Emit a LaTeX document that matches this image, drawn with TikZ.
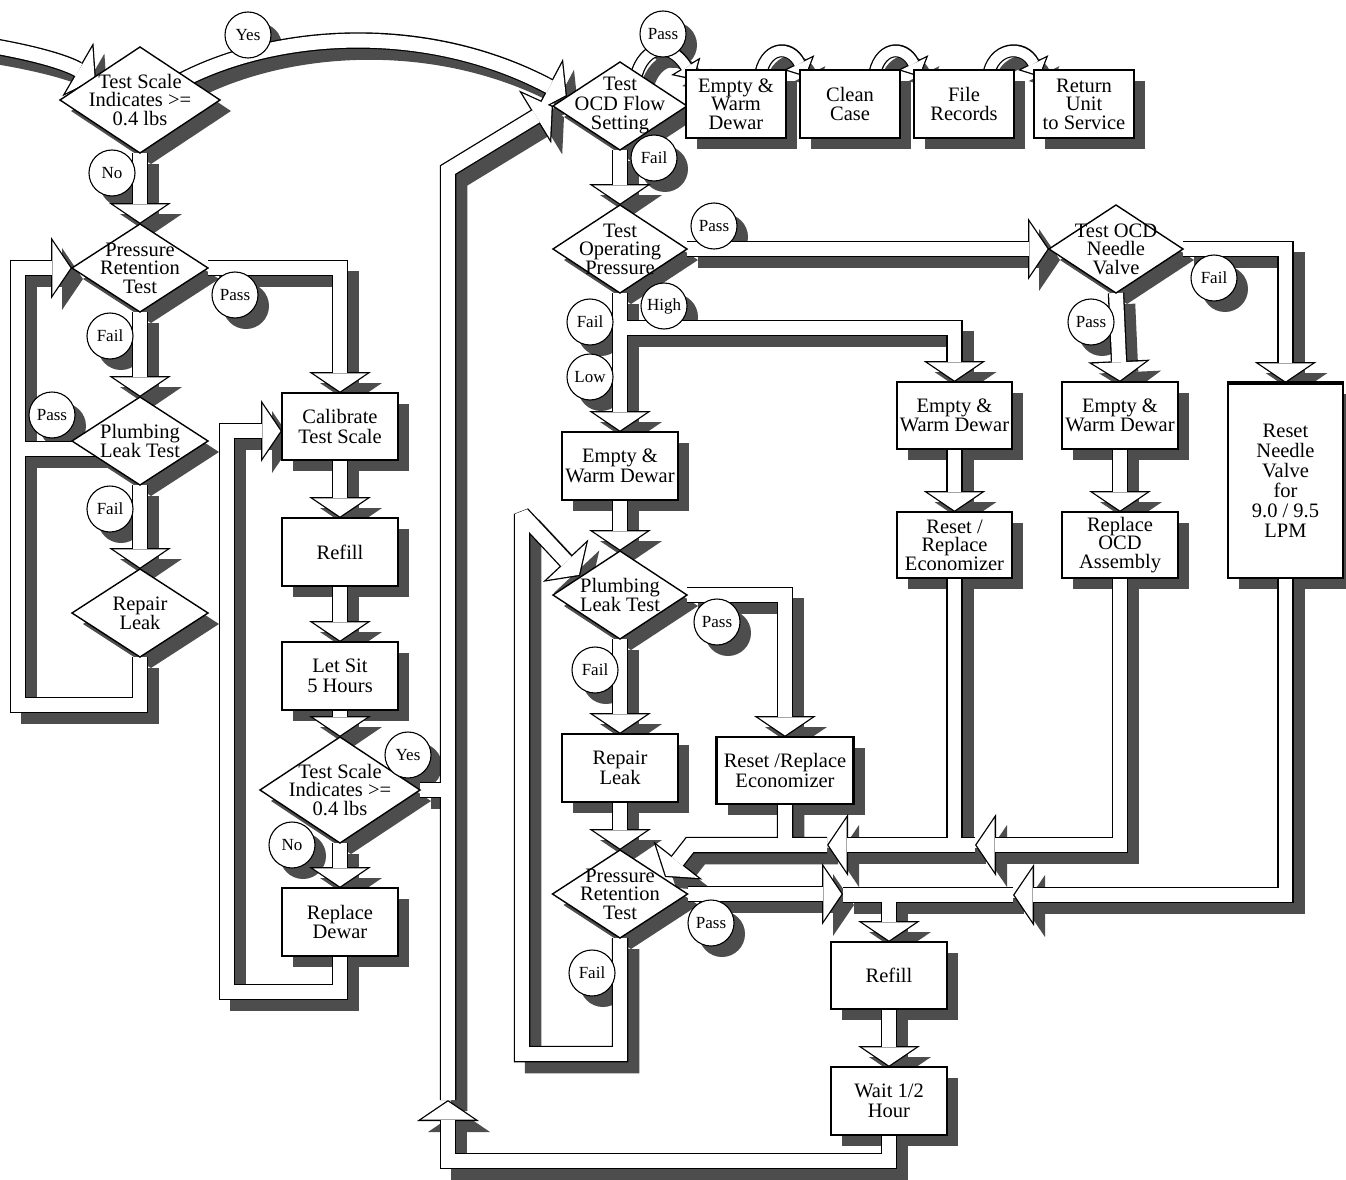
\documentclass[tikz,border=0pt]{standalone}
\usepackage{fontspec}
\setmainfont{Liberation Serif}
\usetikzlibrary{arrows.meta,shapes.geometric}
\pgfdeclarelayer{shadow}
\pgfdeclarelayer{outline}
\pgfdeclarelayer{inner}
\pgfsetlayers{shadow,outline,inner,main}
\definecolor{shd}{RGB}{77,77,77}
\newcommand\bxf{\fontsize{20.5}{19.5}\selectfont}
\newcommand\bxg{\fontsize{20.5}{18.5}\selectfont}
\newcommand\dif{\fontsize{20.5}{18.5}\selectfont}
\newcommand\lbf{\fontsize{17}{17}\selectfont}
\tikzset{
  fsh/.style={draw=shd, line width=16.5pt, line join=miter, miter limit=2, transform canvas={xshift=11pt,yshift=-11pt}},
  fout/.style={draw=black, line width=16.5pt, line join=miter, miter limit=2},
  fin/.style={draw=white, line width=13.9pt, line join=miter, miter limit=2},
  hO/.style={-{Triangle[width=62pt,length=21pt,line width=0pt]}},
  hI/.style={shorten >=1.57pt, -{Triangle[width=53.5pt,length=18.1pt,line width=0pt]}},
  nO/.style={}, nI/.style={},
  sO/.style={line width=13pt, -{Triangle[width=34pt,length=16pt,line width=0pt]}},
  sI/.style={line width=10.4pt, shorten >=1.79pt, -{Triangle[width=27.4pt,length=12.9pt,line width=0pt]}},
  box/.style={draw, fill=white, line width=1.3pt, inner sep=0pt, outer sep=0pt, align=center, font=\bxf},
  dia/.style={diamond, draw, fill=white, line width=1.4pt, inner sep=0pt, outer sep=0pt},
  dtxt/.style={inner sep=0pt, align=center, font=\dif},
  lab/.style={circle, draw, fill=white, line width=1.1pt, minimum size=46pt, inner sep=0pt, outer sep=0pt, font=\lbf},
}
\newcommand\flow[2][h]{%
  \begin{pgfonlayer}{shadow}\draw[fsh,#1O] #2;\end{pgfonlayer}%
  \begin{pgfonlayer}{outline}\draw[fout,#1O] #2;\end{pgfonlayer}%
  \begin{pgfonlayer}{inner}\draw[fin,#1I] #2;\end{pgfonlayer}}
\newcommand\bshad[1]{\begin{pgfonlayer}{shadow}\fill[shd] ([xshift=11pt,yshift=-11pt]#1.north west) rectangle ([xshift=11pt,yshift=-11pt]#1.south east);\end{pgfonlayer}}
\newcommand\dshad[1]{\begin{pgfonlayer}{shadow}\fill[shd] ([xshift=11pt,yshift=-11pt]#1.north) -- ([xshift=11pt,yshift=-11pt]#1.east) -- ([xshift=11pt,yshift=-11pt]#1.south) -- ([xshift=11pt,yshift=-11pt]#1.west) -- cycle;\end{pgfonlayer}}
\newcommand\cshad[1]{\begin{pgfonlayer}{shadow}\fill[shd] ([xshift=11pt,yshift=-11pt]#1.center) circle[radius=23pt];\end{pgfonlayer}}
\newcommand\bnode[6][]{\node[box,minimum width=#4pt,minimum height=#5pt,#1] (#2) at (#3) {#6};\bshad{#2}}
\newcommand\dnode[6][]{\node[dia,minimum width=#4pt,minimum height=#5pt] (#2) at (#3) {};\node[dtxt,#1] (#2t) at (#3) {#6};\dshad{#2}}
\newcommand\cnode[3]{\node[lab] (#1) at (#2) {#3};\cshad{#1}}
\begin{document}
\begin{tikzpicture}[x=1pt,y=-1pt]
\useasboundingbox (0,0) rectangle (1346,1180);
\begin{pgfonlayer}{shadow}\fill[white] (0,0) rectangle (1346,1180);\end{pgfonlayer}
% diamonds
\dnode{dA}{140,100}{160}{106}{Test Scale\\Indicates >=\\0.4 lbs}
\dnode{dB}{140,268}{136}{88}{Pressure\\Retention\\Test}
\dnode[font=\fontsize{20.5}{18}\selectfont]{dC}{140,441}{136}{88}{Plumbing\\Leak Test}
\dnode[font=\fontsize{20.5}{19}\selectfont]{dD}{140,613}{136}{88}{Repair\\Leak}
\dnode{dE}{340,790}{160}{106}{Test Scale\\Indicates >=\\0.4 lbs}
\dnode[font=\fontsize{20.5}{19.5}\selectfont]{dF}{620,106}{134}{88}{Test\\OCD Flow\\Setting}
\dnode{dG}{620,249}{134}{88}{Test\\Operating\\Pressure}
\dnode{dH}{1116,249}{134}{88}{Test OCD\\Needle\\Valve}
\dnode[font=\fontsize{20.5}{18}\selectfont]{dI}{620,595}{134}{88}{Plumbing\\Leak Test}
\dnode{dJ}{620,894}{135}{88}{Pressure\\Retention\\Test}
% boxes
\bnode[font=\bxg]{tE}{736,104}{100}{68}{Empty \&\\Warm\\Dewar}
\bnode{tC}{850,104}{100}{68}{Clean\\Case}
\bnode{tF}{964,104}{100}{68}{File\\Records}
\bnode[font=\bxg]{tR}{1084,104}{100}{68}{Return\\Unit\\to Service}
\bnode{cal}{340,426.5}{116}{67}{Calibrate\\Test Scale}
\bnode{rfa}{340,552}{116}{68}{Refill}
\bnode{ls}{340,676}{116}{68}{Let Sit\\5 Hours}
\bnode{rd}{340,922}{116}{68}{Replace\\Dewar}
\bnode{eL}{620,466}{116}{68}{Empty \&\\Warm Dewar}
\bnode{rl}{620,768}{116}{68}{Repair\\Leak}
\bnode[line width=2.4pt]{eM}{785,770.5}{137}{67}{Reset /Replace\\Economizer}
\bnode{rfb}{889,975.5}{116}{67}{Refill}
\bnode{wt}{889,1101}{116}{68}{Wait 1/2\\Hour}
\bnode{eMid}{954.5,415.5}{115}{67}{Empty \&\\Warm Dewar}
\bnode[font=\bxg]{ecR}{954.5,545}{115}{66}{Reset /\\Replace\\Economizer}
\bnode{eR}{1120,415.5}{116}{67}{Empty \&\\Warm Dewar}
\bnode[font=\bxg]{ocd}{1120,545}{116}{66}{Replace\\OCD\\Assembly}
\bnode[font=\fontsize{20.5}{20}\selectfont]{ndl}{1285.5,480.5}{115}{195}{Reset\\Needle\\Valve\\for\\9.0 / 9.5\\LPM}
\draw[line width=3.5pt] ([xshift=-0.6pt]ndl.north west) -- ([xshift=0.6pt]ndl.north east);
% labels
\cnode{c1}{248,35}{Yes}
\cnode{c2}{112,173}{No}
\cnode{c3}{235,295}{Pass}
\cnode{c4}{110,336}{Fail}
\cnode{c5}{52,415}{Pass}
\cnode{c6}{110,509}{Fail}
\cnode{c7}{408,755}{Yes}
\cnode{c8}{292,845}{No}
\cnode{c9}{663,34}{Pass}
\cnode{c10}{654,158}{Fail}
\cnode{c11}{714,226}{Pass}
\cnode{c12}{590,322}{Fail}
\cnode{c13}{664,306}{High}
\cnode{c14}{590,377}{Low}
\cnode{c15}{1214,278}{Fail}
\cnode{c16}{1091,322}{Pass}
\cnode{c17}{717,622}{Pass}
\cnode{c18}{595,670}{Fail}
\cnode{c19}{711,923}{Pass}
\cnode{c20}{592,973}{Fail}
% flows, left part
\flow{(-20,44) .. controls (30,52) and (65,62) .. (96,80)}
\flow{(165,90) .. controls (260,32) and (420,18) .. (567,96)}
\flow{(dA.south) -- (dB.north)}
\flow{(dB.south) -- (dC.north)}
\flow{(dC.south) -- (dD.north)}
\flow{(dD.south) -- (140,705) -- (18,705) -- (18,268) -- (dB.west)}
\flow[n]{(110,449) -- (18,449)}
\flow{(dB.east) -- (cal.north |- dB.east) -- (cal.north)}
\flow{(cal.south) -- (rfa.north)}
\flow{(rfa.south) -- (ls.north)}
\flow{(ls.south) -- (dE.north)}
\flow{(dE.south) -- (rd.north)}
\flow{(rd.south) -- (340,992) -- (227,992) -- (227,431) -- (cal.west |- 0,431)}
\flow[n]{(dE.east) -- (448,790)}
\flow{(wt.south) -- (889,1161) -- (448,1161) -- (448,1100)}
\flow{(448,1100) -- (448,170) -- (dF.west)}
% top row
\flow{(dF.south) -- (dG.north)}
\flow[s]{(634,86) .. controls (640,44) and (670,40) .. (694,80)}
\flow[s]{(760,78) .. controls (764,46) and (790,44) .. (806,77)}
\flow[s]{(874,78) .. controls (878,46) and (904,44) .. (920,77)}
\flow[s]{(988,78) .. controls (992,46) and (1024,44) .. (1040,77)}
% right part
\flow{(dG.east) -- (dH.west)}
\flow{(dG.south) -- (eL.north)}
\flow{(620,328) -- (eMid.north |- 0,328) -- (eMid.north)}
\flow{(eMid.south) -- (ecR.north)}
\flow{(dH.south) -- (eR.north)}
\flow{(dH.east) -- (ndl.north |- dH.east) -- (ndl.north)}
\flow{(eR.south) -- (ocd.north)}
\flow{(eL.south) -- (dI.north)}
\flow{(dI.south) -- (rl.north)}
\flow{(dI.east) -- (eM.north |- dI.east) -- (eM.north)}
\flow{(dJ.south) -- (620,1054) -- (522,1054) -- (522,514) -- (580,576)}
\flow{(rl.south) -- (dJ.north)}
\flow{(eM.south) -- (785,845) (827,845) -- (690,845) -- (665,877)}
\flow{(975,845) -- (950,845) (ecR.south) -- (954.5,845) -- (827,845)}
\flow{(ocd.south) -- (1120,845) -- (975,845)}
\flow{(ndl.south) -- (1285.5,895) -- (1013,895)}
\flow{(dJ.east) -- (843,894)}
\flow{(843,895) -- (1013,895) (rfb.north |- 0,895) -- (rfb.north)}
\flow{(rfb.south) -- (wt.north)}
\end{tikzpicture}
\end{document}
